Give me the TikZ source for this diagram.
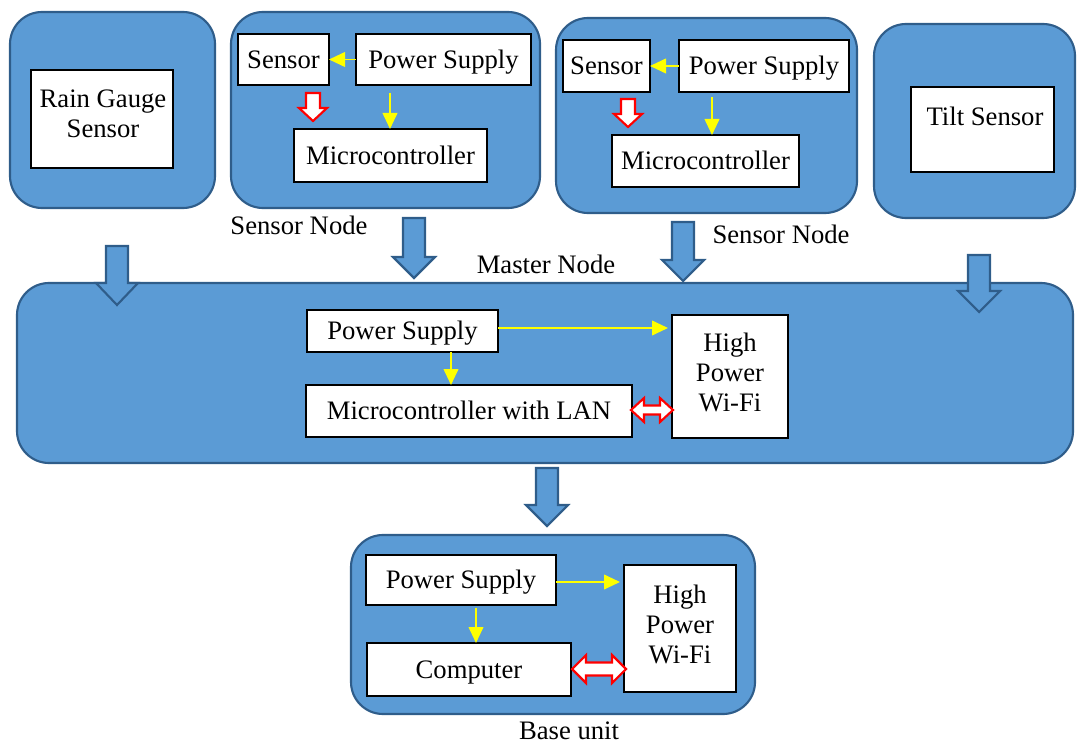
\documentclass[tikz,border=0pt]{standalone}
\usepackage{fontspec}
\setmainfont{Liberation Serif}
\usetikzlibrary{arrows.meta}
\definecolor{fillblue}{HTML}{5B9BD5}
\definecolor{edgeblue}{HTML}{2F5D8A}
\definecolor{ylw}{HTML}{FFFF00}
\definecolor{rd}{HTML}{FF0000}
\tikzset{
  outerbox/.style={draw=edgeblue,fill=fillblue,line width=1.6pt,rounded corners=24pt,inner sep=0pt,outer sep=0pt},
  box/.style={draw=black,fill=white,line width=1.8pt,inner sep=0pt,outer sep=0pt,align=center,font=\fontsize{20}{22.5}\selectfont},
  onebox/.style={box,text height=13.2pt,text depth=0pt},
  lbl/.style={inner sep=0pt,align=center,font=\fontsize{20}{22.5}\selectfont},
  onelbl/.style={lbl,text height=13.2pt,text depth=0pt},
  yarr/.style={draw=ylw,line width=1.4pt,-{Triangle[length=12pt,width=11pt]}},
  bigarrow/.style={draw=edgeblue,fill=fillblue,line width=1.6pt,line join=miter},
  hollow/.style={draw=rd,fill=white,line width=1.6pt,line join=miter}
}
\newcommand\bx[7][onebox]{\node[#1,minimum width={(#5-#3)*0.75pt},minimum height={(#6-#4)*0.75pt}] (#2) at ({(#3+#5)/2},{(#4+#6)/2}) {#7};}
% x, ytop, ytip, headlen
\newcommand\barrow[4]{\draw[bigarrow] (#1-11,#2) -- (#1+11,#2) -- (#1+11,#3-#4) -- (#1+21,#3-#4) -- (#1,#3) -- (#1-21,#3-#4) -- (#1-11,#3-#4) -- cycle;}
% x1, x2, yc, halfshaft, halfhead, headlen
\newcommand\dbarrow[6]{\draw[hollow] (#1,#3) -- (#1+#6,#3-#5) -- (#1+#6,#3-#4) -- (#2-#6,#3-#4) -- (#2-#6,#3-#5) -- (#2,#3) -- (#2-#6,#3+#5) -- (#2-#6,#3+#4) -- (#1+#6,#3+#4) -- (#1+#6,#3+#5) -- cycle;}
% x, ytop, ytip, halfshaft, halfhead, headlen
\newcommand\hdown[6]{\draw[hollow] (#1-#4,#2) -- (#1+#4,#2) -- (#1+#4,#3-#6) -- (#1+#5,#3-#6) -- (#1,#3) -- (#1-#5,#3-#6) -- (#1-#4,#3-#6) -- cycle;}
\begin{document}
\begin{tikzpicture}[x=0.75pt,y=-0.75pt]
\useasboundingbox (0,0) rectangle (1077,745);
% containers
\bx[outerbox]{rg}{10}{12}{215}{208}{}
\bx[outerbox]{sn1}{231}{12}{540}{208}{}
\bx[outerbox]{sn2}{556}{18}{857}{213}{}
\bx[outerbox]{ts}{874}{24}{1075}{218}{}
\bx[outerbox]{mn}{17}{283}{1073}{463}{}
\bx[outerbox]{bu}{351}{535}{755}{714}{}
% rain gauge
\bx{rgbox}{31}{70}{173}{168}{}
\node[lbl] (rgtext) at (103,114) {Rain Gauge\\Sensor};
% tilt
\bx{tsbox}{911}{87}{1054}{172}{}
\node[onelbl] (tstext) at (985,117) {Tilt Sensor};
% sensor node 1
\bx{sen1}{238}{34}{329}{85}{Sensor}
\bx{ps1}{356}{34}{531}{85}{Power Supply}
\bx{mc1}{294}{129}{487}{182}{Microcontroller}
\coordinate (c1) at (390,0);
\draw[yarr] (ps1.west) -- (sen1.east);
\draw[yarr,shorten <=6pt] (ps1.south -| c1) -- (mc1.north -| c1);
\hdown{313}{93}{121}{7}{14}{13}
\node[onelbl] (l1) at (299,226) {Sensor Node};
% sensor node 2
\bx{sen2}{563}{40}{650}{92}{Sensor}
\bx{ps2}{679}{40}{849}{92}{Power Supply}
\bx{mc2}{612}{135}{799}{187}{Microcontroller}
\coordinate (c2) at (712,0);
\draw[yarr] (ps2.west) -- (sen2.east);
\draw[yarr,shorten <=4pt] (ps2.south -| c2) -- (mc2.north -| c2);
\hdown{628}{99}{127}{7}{14}{13}
\node[onelbl] (l2) at (781,235) {Sensor Node};
% big arrows
\barrow{117}{246}{305}{22}
\barrow{414}{218}{278}{21}
\barrow{683}{222}{281}{21}
\barrow{979}{255}{312}{21}
\barrow{547}{468}{526}{21}
\node[onelbl] (l3) at (546,265) {Master Node};
% master
\bx{psm}{307}{310}{498}{352}{Power Supply}
\bx{mcm}{306}{385}{632}{437}{Microcontroller with LAN}
\bx{wfm}{672}{315}{788}{438}{}
\node[lbl] (wfmtext) at (730,372.5) {High\\Power\\Wi-Fi};
\coordinate (c3) at (451,0);
\coordinate (r3) at (0,328);
\draw[yarr,shorten >=3pt] (psm.east |- r3) -- (wfm.west |- r3);
\draw[yarr] (psm.south -| c3) -- (mcm.north -| c3);
\dbarrow{631}{673}{410}{4.5}{12}{13}
% base
\bx{psb}{366}{555}{556}{605}{Power Supply}
\bx{cpb}{367}{643}{571}{696}{Computer}
\bx{wfb}{624}{565}{736}{692}{}
\node[lbl] (wfbtext) at (680,624.5) {High\\Power\\Wi-Fi};
\coordinate (c4) at (476,0);
\coordinate (r4) at (0,582);
\draw[yarr,shorten >=3pt] (psb.east |- r4) -- (wfb.west |- r4);
\draw[yarr,shorten <=2pt] (psb.south -| c4) -- (cpb.north -| c4);
\dbarrow{572}{626}{669}{6.5}{14}{14}
\node[onelbl] (l4) at (569,731) {Base unit};
\end{tikzpicture}
\end{document}
